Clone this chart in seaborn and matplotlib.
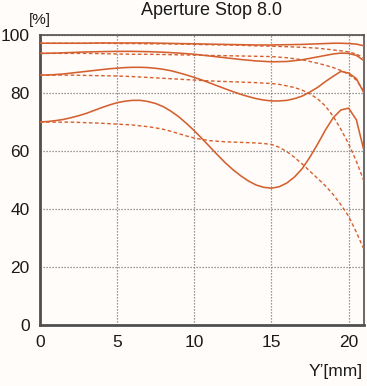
import matplotlib
matplotlib.use("Agg")
import matplotlib.pyplot as plt
import seaborn as sns
import pandas as pd

# Image height Y' [mm] (coarse grid for flat curves, fine grid for curved ones)
y_pos_coarse = [0, 1, 2, 3, 4, 5, 6, 7, 8, 9, 10, 11, 12, 13, 14, 15, 16, 17, 18, 18.5, 19, 19.5, 20, 20.5, 21]
y_pos_fine = [0, 0.5, 1, 1.5, 2, 2.5, 3, 3.5, 4, 4.5, 5, 5.5, 6, 6.5, 7, 7.5, 8, 8.5, 9, 9.5, 10,
              10.5, 11, 11.5, 12, 12.5, 13, 13.5, 14, 14.5, 15, 15.5, 16, 16.5, 17, 17.5, 18,
              18.5, 19, 19.5, 20, 20.5, 21]

# MTF [%] – solid and dashed pairs
s1 = [97.2, 97.2, 97.2, 97.2, 97.3, 97.3, 97.3, 97.3, 97.2, 97.1, 97.0, 96.9, 96.8, 96.7, 96.6, 96.6, 96.7, 96.8, 97.0, 97.1, 97.2, 97.2, 97.1, 96.9, 96.3]
d1 = [97.2, 97.2, 97.2, 97.2, 97.2, 97.1, 97.1, 97.0, 97.0, 96.9, 96.8, 96.7, 96.6, 96.5, 96.3, 96.2, 96.0, 95.8, 95.5, 95.2, 94.9, 94.6, 94.2, 93.5, 92.0]
s2 = [93.7, 93.8, 94.0, 94.2, 94.3, 94.4, 94.4, 94.3, 94.1, 93.8, 93.4, 92.8, 92.2, 91.6, 91.1, 90.8, 90.9, 91.5, 92.5, 93.0, 93.5, 93.8, 93.7, 93.0, 91.2]
d2 = [93.7, 93.7, 93.7, 93.7, 93.6, 93.5, 93.4, 93.4, 93.3, 93.2, 93.1, 93.0, 92.9, 92.8, 92.7, 92.6, 92.2, 91.5, 90.3, 89.6, 88.8, 87.8, 86.5, 84.5, 80.5]

s3 = [86.2, 86.25, 86.4, 86.6, 86.9, 87.2, 87.5, 87.8, 88.1, 88.4, 88.6, 88.8, 88.9, 88.9, 88.8,
      88.55, 88.2, 87.7, 87.0, 86.25, 85.4, 84.5, 83.5, 82.5, 81.5, 80.5, 79.6, 78.8, 78.1, 77.6,
      77.3, 77.3, 77.5, 78.1, 79.0, 80.4, 82.0, 84.0, 85.8, 87.5, 86.9, 85.0, 80.0]
d3 = [86.2, 86.2, 86.2, 86.2, 86.2, 86.15, 86.1, 86.05, 86.0, 85.95, 85.9, 85.8, 85.7, 85.55, 85.4,
      85.25, 85.1, 84.95, 84.8, 84.65, 84.5, 84.35, 84.2, 84.1, 84.0, 83.9, 83.8, 83.7, 83.6, 83.45,
      83.3, 83.0, 82.5, 81.9, 81.0, 79.7, 78.0, 75.5, 72.0, 67.5, 62.5, 56.5, 49.5]
s4 = [70.0, 70.2, 70.5, 70.9, 71.5, 72.2, 73.0, 74.0, 75.0, 75.9, 76.7, 77.2, 77.5, 77.5, 77.1,
      76.4, 75.3, 73.7, 71.8, 69.5, 67.0, 64.3, 61.5, 58.7, 56.0, 53.6, 51.5, 49.7, 48.3, 47.5,
      47.2, 47.7, 49.0, 51.1, 54.0, 58.0, 62.5, 67.3, 71.5, 74.2, 74.8, 70.8, 60.0]
d4 = [70.0, 70.0, 70.0, 70.0, 70.0, 69.9, 69.8, 69.7, 69.6, 69.45, 69.3, 69.15, 69.0, 68.7, 68.4,
      68.0, 67.5, 66.8, 66.0, 65.2, 64.5, 64.0, 63.6, 63.4, 63.2, 63.1, 63.0, 62.9, 62.8, 62.6,
      62.3, 61.3, 59.8, 57.8, 55.5, 53.0, 50.5, 48.0, 45.0, 41.5, 37.5, 32.0, 26.0]

x_ticks = [0, 5, 10, 15, 20]
y_ticks = [0, 20, 40, 60, 80, 100]

sns.set_style("white")
plt.rcParams['font.family'] = ['Liberation Sans', 'DejaVu Sans']

bg = "#fffcf9"
line_col = "#d5602f"
spine_col = "#505050"

fig = plt.figure(figsize=(3.67, 3.86), dpi=100, facecolor=bg)
ax = fig.add_axes([0.109, 0.158, 0.883, 0.751])
ax.set_facecolor(bg)

series = [(y_pos_coarse, s1, "-"), (y_pos_coarse, d1, "--"),
          (y_pos_coarse, s2, "-"), (y_pos_coarse, d2, "--"),
          (y_pos_fine, s3, "-"), (y_pos_fine, d3, "--"),
          (y_pos_fine, s4, "-"), (y_pos_fine, d4, "--")]
for xs, vals, ls in series:
    df = pd.DataFrame({"x": xs, "v": vals})
    sns.lineplot(data=df, x="x", y="v", ax=ax, color=line_col,
                 linewidth=1.15 if ls == "-" else 1.0, zorder=3)
    line = ax.lines[-1]
    line.set_linestyle(ls)
    if ls == "--":
        line.set_dashes((2.6, 1.8))
    line.set_solid_joinstyle("round")

ax.set_xlim(0, 21)
ax.set_ylim(0, 100)
ax.set_xticks(x_ticks)
ax.set_yticks(y_ticks)
ax.set_xlabel("")
ax.set_ylabel("")

ax.grid(True, color="#7a7a7a", linestyle=(0, (1, 1.4)), linewidth=0.9, zorder=1)
ax.set_axisbelow(True)

for side in ["left", "bottom"]:
    ax.spines[side].set_linewidth(2.0)
    ax.spines[side].set_color(spine_col)
for side in ["top", "right"]:
    ax.spines[side].set_linewidth(1.2)
    ax.spines[side].set_color(spine_col)

ax.tick_params(axis="y", which="major", direction="out", length=7, width=1.5,
               color=spine_col, labelsize=12.5, labelcolor="#1a1a1a", pad=0.5)
ax.tick_params(axis="x", which="major", direction="out", length=5.5, width=1.5,
               color=spine_col, labelsize=12.5, labelcolor="#1a1a1a", pad=1.5)

fig.text(0.577, 0.972, "Aperture Stop 8.0", ha="center", va="center", fontsize=13, color="#1a1a1a")
fig.text(0.109, 0.948, "[%]", ha="center", va="center", fontsize=11, color="#1a1a1a")
fig.text(0.989, 0.038, "Y\u2019[mm]", ha="right", va="center", fontsize=12.5, color="#1a1a1a")

fig.savefig("out.png", dpi=100, facecolor=bg)
